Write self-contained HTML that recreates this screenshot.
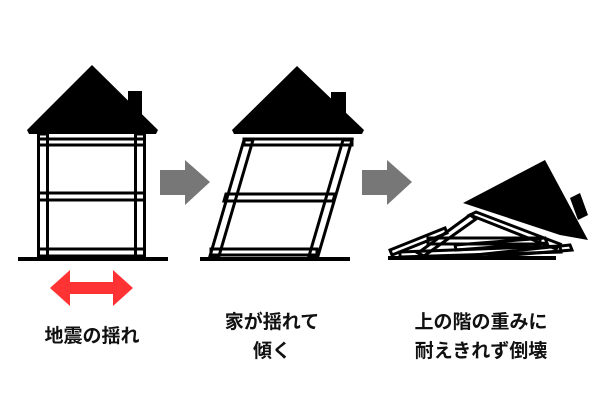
<!DOCTYPE html>
<html><head><meta charset="utf-8"><style>
html,body{margin:0;padding:0;background:#fff;}
.t{position:absolute;font-family:"Liberation Sans","Noto Sans CJK JP",sans-serif;font-weight:bold;font-size:19px;color:#111;text-align:center;line-height:29px;}
</style></head><body>
<div style="position:relative;width:600px;height:400px;overflow:hidden">
<svg width="600" height="400" style="position:absolute;left:0;top:0">
<g>
<polygon points="92,65 27,130 29,134 156,134 158,130" fill="#000"/>
<rect x="128" y="91" width="14" height="30" fill="#000"/>
<g fill="none" stroke="#000" stroke-width="3">
<rect x="38.5" y="134" width="9" height="124"/>
<rect x="135.5" y="134" width="9" height="124"/>
<rect x="38.5" y="139" width="106" height="6"/>
<rect x="38.5" y="193" width="106" height="7"/>
<rect x="38.5" y="249" width="106" height="7"/>
</g>
<rect x="18" y="257" width="150" height="4" fill="#000"/>
<polygon points="50,288 70,270 70,282 113,282 113,270 133,288 113,306 113,294 70,294 70,306" fill="#f33"/>
</g>
<polygon points="160,170 185,170 185,160 210,182 185,205 185,195 160,195" fill="#777"/>
<g>
<polygon points="297,66 232,130 234,134 362,134 364,130" fill="#000"/>
<rect x="331" y="92" width="15" height="30" fill="#000"/>
<g fill="none" stroke="#000" stroke-width="3">
<polygon points="244,140 253,140 219,256 210,256"/>
<polygon points="343,140 352,140 318,256 309,256"/>
<rect x="244" y="139" width="108" height="6"/>
<polygon points="226,194 335,194 333,201 224,201"/>
<rect x="211" y="249" width="106" height="6"/>
</g>
<rect x="200" y="257" width="150" height="4" fill="#000"/>
</g>
<polygon points="362,170 387,170 387,160 412,182 387,205 387,195 362,195" fill="#777"/>
<g>
<g fill="none" stroke="#000" stroke-width="3">
<polygon points="390,250 445,228 447,233 392,255"/>
<polygon points="418,253 470,215 476,219 424,256"/>
<polygon points="470,215 476,212 560,244 556,249"/>
<polygon points="428,238 540,238 540,244 428,244"/>
<polygon points="400,252 560,246 561,252 400,257"/>
<polygon points="455,245 545,238 547,243 456,250"/>
<polygon points="475,255 570,245 572,250 477,258"/>
</g>
<rect x="388" y="256" width="168" height="4" fill="#000"/>
<polygon points="463,203 545,160 588,240 560,235" fill="#000"/>
<polygon points="570,198 580,193 588,215 578,220" fill="#000"/>
</g>
</svg>
<div class="t" style="left:-8px;width:200px;top:322px">地震の揺れ</div>
<div class="t" style="left:172px;width:200px;top:308px">家が揺れて<br>傾く</div>
<div class="t" style="left:381px;width:200px;top:308px">上の階の重みに<br>耐えきれず倒壊</div>
</div>
</body></html>
